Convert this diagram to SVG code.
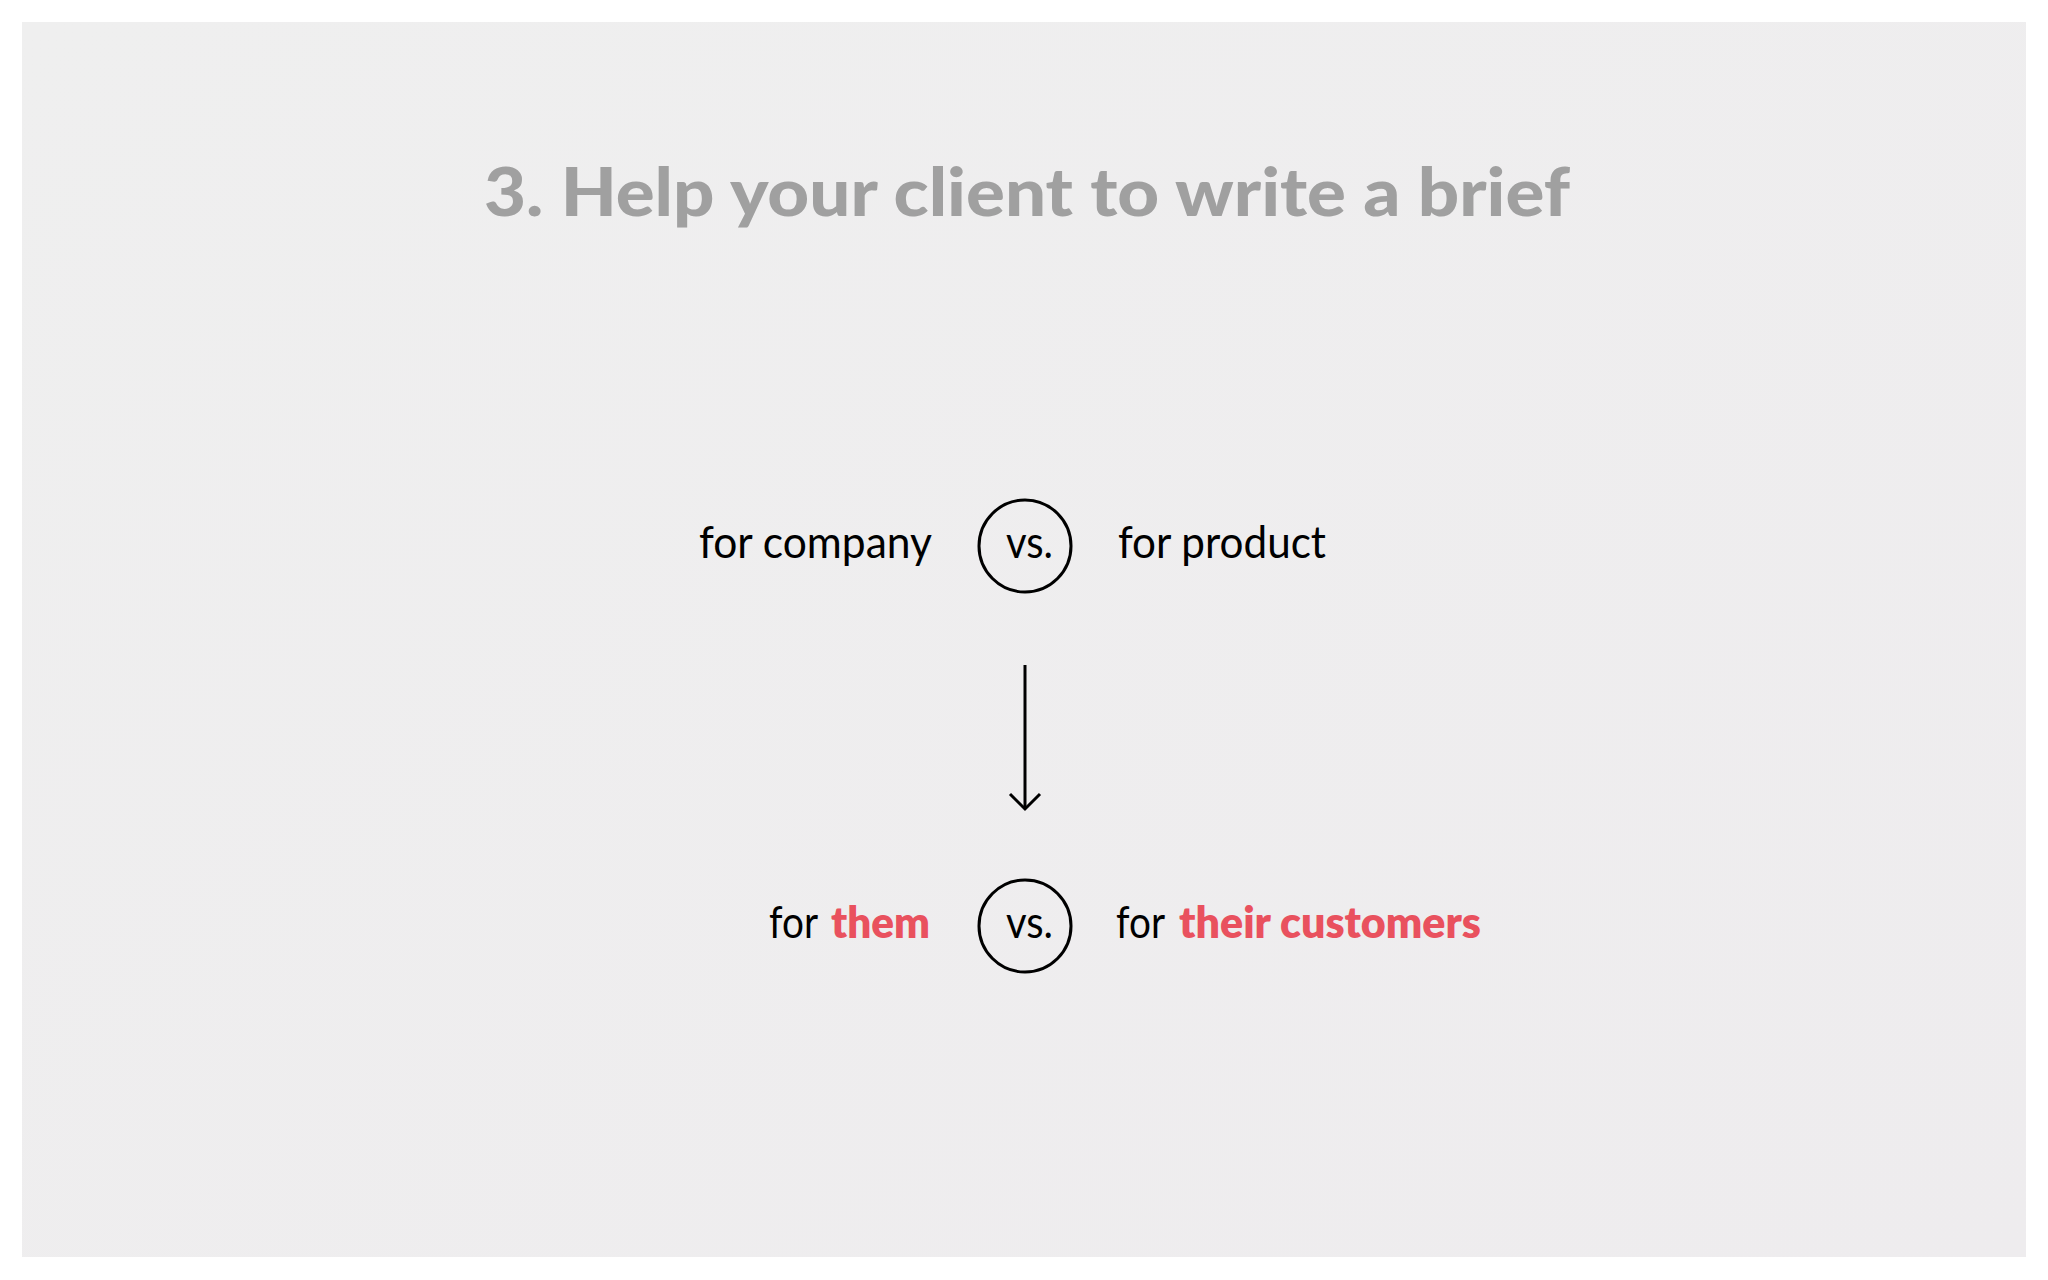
<svg xmlns="http://www.w3.org/2000/svg" width="2048" height="1280" viewBox="0 0 2048 1280">
<defs>
<linearGradient id="bg" x1="0" y1="0" x2="1" y2="1">
<stop offset="0" stop-color="#efefef"/>
<stop offset="1" stop-color="#eeecee"/>
</linearGradient>
</defs>
<style>
.title{font-family:Lato,"Open Sans","Liberation Sans",sans-serif;font-weight:900;font-size:67px;fill:#a0a0a0}
.lbl{font-family:Lato,"Open Sans","Liberation Sans",sans-serif;font-weight:400;font-size:44px;fill:#000}
.hl{font-weight:800;fill:#e9515e}
.ring{fill:none;stroke:#000;stroke-width:3}
.conn{fill:none;stroke:#000;stroke-width:3;stroke-linecap:butt;stroke-linejoin:miter}
</style>
<rect width="2048" height="1280" fill="#ffffff"/>
<rect x="22" y="22" width="2004" height="1235" fill="url(#bg)"/>
<g id="title">
<text class="title" x="484" y="216" textLength="1086" lengthAdjust="spacingAndGlyphs">3. Help your client to write a brief</text>
</g>
<g id="row1">
<text class="lbl" x="699" y="558" textLength="233" lengthAdjust="spacingAndGlyphs">for company</text>
<circle class="ring" cx="1025" cy="546" r="46"/>
<text class="lbl" x="1006" y="558" textLength="47" lengthAdjust="spacingAndGlyphs">vs.</text>
<text class="lbl" x="1118" y="558" textLength="208" lengthAdjust="spacingAndGlyphs">for product</text>
</g>
<g id="connectors">
<line class="conn" x1="1025" y1="665" x2="1025" y2="808"/>
<polyline class="conn" points="1010,794 1025,809 1040,794"/>
</g>
<g id="row2">
<text class="lbl" x="769" y="938"><tspan x="769" textLength="49" lengthAdjust="spacingAndGlyphs">for</tspan><tspan class="hl" x="831" textLength="99" lengthAdjust="spacingAndGlyphs">them</tspan></text>
<circle class="ring" cx="1025" cy="926" r="46"/>
<text class="lbl" x="1006" y="938" textLength="47" lengthAdjust="spacingAndGlyphs">vs.</text>
<text class="lbl" x="1116" y="938"><tspan x="1116" textLength="49" lengthAdjust="spacingAndGlyphs">for</tspan><tspan class="hl" x="1179" textLength="302" lengthAdjust="spacingAndGlyphs">their customers</tspan></text>
</g>
</svg>
